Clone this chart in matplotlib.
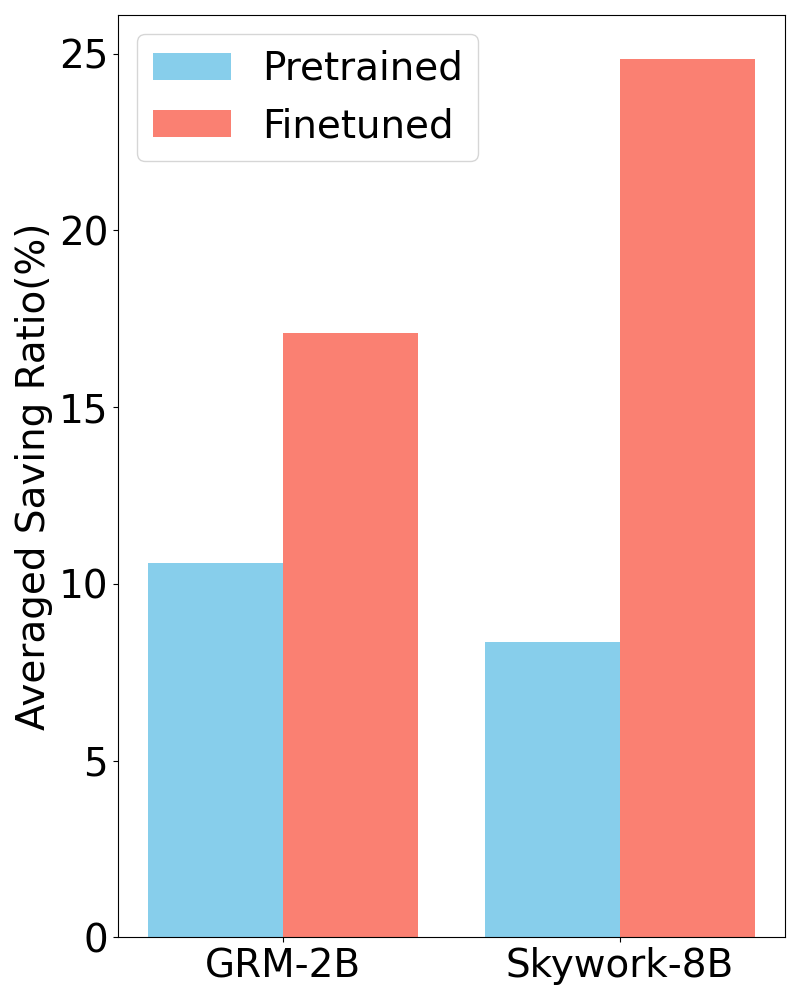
import numpy as np
import matplotlib
matplotlib.use('Agg')
import matplotlib.pyplot as plt

models = ['GRM-2B', 'Skywork-8B']
pretrained = [10.6, 8.35]
finetuned = [17.1, 24.85]

x = np.arange(len(models))
width = 0.4

fig, ax = plt.subplots(figsize=(8, 10))
ax.bar(x - width / 2, pretrained, width, label='Pretrained', color='skyblue')
ax.bar(x + width / 2, finetuned, width, label='Finetuned', color='salmon')

ax.set_ylabel('Averaged Saving Ratio(%)', fontsize=28)
ax.set_xticks(x)
ax.set_xticklabels(models)
ax.tick_params(axis='both', labelsize=28)
ax.legend(fontsize=28, loc='upper left')

fig.tight_layout()
fig.savefig('out.png', dpi=100)
